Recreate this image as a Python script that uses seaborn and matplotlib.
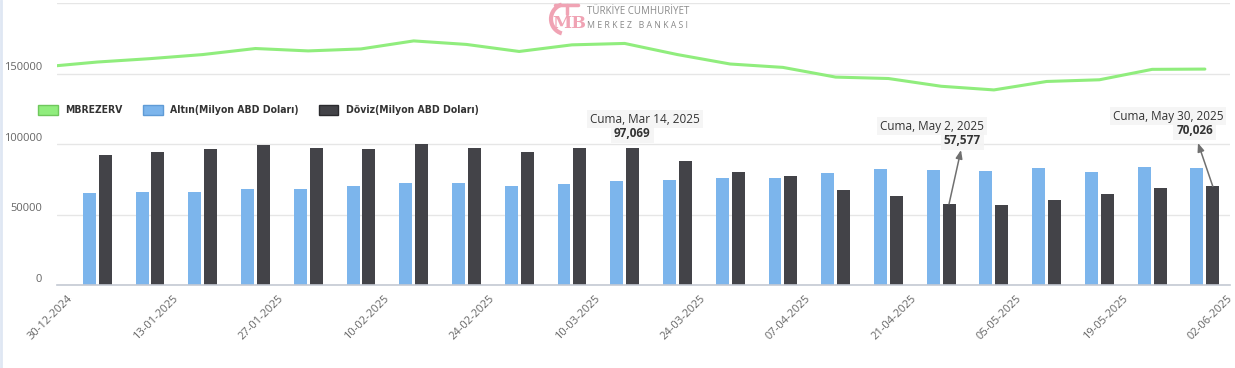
import pandas as pd
import numpy as np
import matplotlib
matplotlib.use("Agg")
import matplotlib.pyplot as plt
import matplotlib.dates as mdates
from matplotlib import font_manager
from matplotlib.font_manager import FontProperties
from matplotlib.patches import Patch, Arc
from matplotlib.lines import Line2D
import seaborn as sns

# ----------------------------
# Data
# ----------------------------
bar_dates = pd.date_range("2025-01-03", "2025-05-30", freq="7D")
altin = [65200, 65900, 65900, 68000, 68000, 70200, 72300, 72300, 70200, 71600, 73700,
         74500, 75900, 75900, 79500, 82300, 81600, 80900, 83100, 80200, 83800, 83100]
doviz = [92400, 94500, 96700, 99500, 97400, 96700, 100200, 97400, 94500, 97400, 97069,
         88100, 80200, 77300, 67800, 63500, 57577, 56500, 60300, 64600, 68900, 70026]

line_dates = pd.date_range("2024-12-27", "2025-05-30", freq="7D")
mbrezerv = [154900, 158300, 160700, 163600, 167900, 166200, 167600, 173300, 170800,
            165800, 170500, 171500, 163600, 156900, 154500, 147600, 146600, 141100,
            138500, 144500, 145700, 153100, 153300]

tick_dates = pd.date_range("2024-12-30", "2025-06-02", freq="14D")
y_ticks = [0, 50000, 100000, 150000, 200000]
y_tick_labels = ["0", "50000", "100000", "150000", ""]

lbl_line = "MBREZERV"
lbl_altin = "Altın(Milyon ABD Doları)"
lbl_doviz = "Döviz(Milyon ABD Doları)"

callouts = [("Cuma, Mar 14, 2025", "97,069"),
            ("Cuma, May 2, 2025", "57,577"),
            ("Cuma, May 30, 2025", "70,026")]

GREEN, BLUE, DARK = "#90ed7d", "#7cb5ec", "#434348"

# ----------------------------
# Figure
# ----------------------------
sns.set_style("white")
plt.rcParams["font.family"] = ["Open Sans", "DejaVu Sans"]

# narrow bold font for the legend, if one is installed
legend_font = None
for f in font_manager.fontManager.ttflist:
    fn = f.fname.lower()
    if ("narrow" in fn or "condensed" in fn) and "bold" in fn and "oblique" not in fn \
            and "italic" not in fn:
        legend_font = FontProperties(fname=f.fname, size=7.5)
        break
if legend_font is None:
    legend_font = FontProperties(family="Roboto", weight="bold", size=7)

W, H = 1235, 368
fig = plt.figure(figsize=(W / 100, H / 100), dpi=100)
ax = fig.add_axes([57 / W, (H - 285) / H, (1230 - 57) / W, (285 - 3.3) / H])

bars = pd.DataFrame({
    "date": list(mdates.date2num(bar_dates)) * 2,
    "value": altin + doviz,
    "series": [lbl_altin] * len(altin) + [lbl_doviz] * len(doviz),
})
sns.barplot(data=bars, x="date", y="value", hue="series", hue_order=[lbl_altin, lbl_doviz],
            palette=[BLUE, DARK], native_scale=True, width=0.6, gap=0.18,
            legend=False, ax=ax, saturation=1, linewidth=0)

sns.lineplot(x=mdates.date2num(line_dates), y=mbrezerv, color=GREEN, linewidth=2.2, ax=ax)

x0 = mdates.date2num(pd.Timestamp("2024-12-28 16:00"))
x1 = mdates.date2num(pd.Timestamp("2025-06-02 08:00"))
ax.set_xlim(x0, x1)
ax.set_ylim(0, 200000)

# grid & axes
ax.set_yticks(y_ticks)
ax.set_yticklabels([])
ax.tick_params(axis="y", length=0)
ax.yaxis.grid(True, color="#e6e6e6", linewidth=1)
ax.set_axisbelow(True)
for s in ["top", "right", "left"]:
    ax.spines[s].set_visible(False)
ax.spines["bottom"].set_color("#c4c9d3")
ax.spines["bottom"].set_linewidth(1.2)
ax.set_xlabel("")
ax.set_ylabel("")

for v, t in zip(y_ticks, y_tick_labels):
    ax.annotate(t, xy=(0, v), xycoords=ax.get_yaxis_transform(), xytext=(-10.8, 4.3),
                textcoords="offset points", ha="right", va="center", fontsize=8, color="#666666")

ax.set_xticks(mdates.date2num(tick_dates))
ax.xaxis.set_major_formatter(mdates.DateFormatter("%d-%m-%Y"))
ax.tick_params(axis="x", length=4, width=1, color="#ccd6eb", direction="out",
               labelsize=8, labelcolor="#666666", pad=2)
for lab in ax.get_xticklabels():
    lab.set_rotation(45)
    lab.set_ha("right")
    lab.set_rotation_mode("anchor")

# legend
handles = [Patch(facecolor=GREEN, edgecolor="#6fc75c", linewidth=1),
           Patch(facecolor=BLUE, edgecolor="#5f9bd6", linewidth=1),
           Patch(facecolor=DARK, edgecolor="#2a2a2e", linewidth=1)]
fig.legend(handles, [lbl_line, lbl_altin, lbl_doviz], loc="center left",
           bbox_to_anchor=(38 / W, 1 - 110 / H), ncol=3, frameon=False,
           borderpad=0, borderaxespad=0, handlelength=1.9, handleheight=1.2,
           handletextpad=0.75, columnspacing=1.9, prop=legend_font, labelcolor="#333333")

# tooltips (figure pixel positions)
def fpx(x, y):
    return x / W, 1 - y / H

box = dict(boxstyle="square,pad=0.25", facecolor="#f4f4f4", edgecolor="none", alpha=0.9)
title_pos = [(645, 119, "center"), (932, 126, "center"), (1168, 116, "center")]
value_pos = [(614, 134, "left"), (981, 141, "right"), (1213, 131, "right")]
for (title, val), (tx, ty, tha), (vx, vy, vha) in zip(callouts, title_pos, value_pos):
    fig.text(*fpx(tx, ty), title, ha=tha, va="center", fontsize=8.5, color="#333333", bbox=box)
    fig.text(*fpx(vx, vy), val, ha=vha, va="center", fontsize=8.5, color="#333333",
             fontweight="bold", bbox=box)

# arrows from bar tops up to the tooltips
arrow_targets = [(bar_dates[16], doviz[16], 961, 150), (bar_dates[21], doviz[21], 1198, 143)]
for d, v, px, py in arrow_targets:
    ax.annotate("", xy=(mdates.date2num(d) + 1.05, v), xycoords="data",
                xytext=(px, H - py), textcoords="figure pixels",
                arrowprops=dict(arrowstyle="<|-,head_length=0.5,head_width=0.2",
                                color="#707070", lw=1.1, shrinkA=0, shrinkB=0),
                annotation_clip=False)

# watermark logo
PINK = "#f0a3b4"
fig.add_artist(Arc(fpx(566, 19), 30 / W, 30 / H, theta1=95, theta2=265,
                   transform=fig.transFigure, color=PINK, lw=3))
fig.add_artist(Line2D([555 / W, 578 / W], [1 - 4.5 / H, 1 - 4.5 / H], transform=fig.transFigure,
                      color=PINK, lw=2.5))
fig.add_artist(Line2D([566.5 / W, 566.5 / W], [1 - 4.5 / H, 1 - 14 / H], transform=fig.transFigure,
                      color=PINK, lw=2.5))
fig.text(*fpx(569, 23), "MB", ha="center", va="center", fontsize=12.5, color=PINK,
         fontweight="bold", family="DejaVu Serif")
fig.text(*fpx(587, 12), "TÜRKİYE CUMHURİYET", ha="left", va="center", fontsize=7,
         color="#8a8a8a")
fig.text(*fpx(587, 25), "M E R K E Z   B A N K A S I", ha="left", va="center", fontsize=6.3,
         color="#8a8a8a")

# faint left frame line
fig.add_artist(Line2D([0.0012, 0.0012], [0, 1], transform=fig.transFigure, color="#dfe7f3", lw=2))

fig.savefig("out.png", dpi=100)
